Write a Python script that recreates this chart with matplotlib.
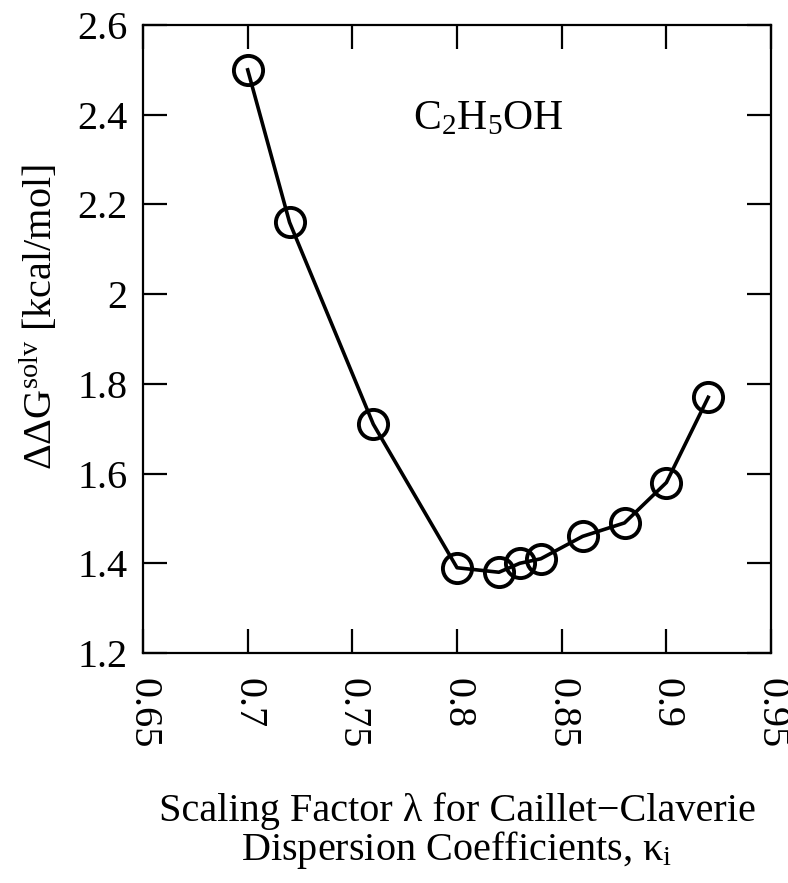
import matplotlib
matplotlib.use("Agg")
import matplotlib.pyplot as plt

plt.rcParams['font.family'] = ['Liberation Serif', 'DejaVu Serif']
plt.rcParams['mathtext.fontset'] = 'custom'
plt.rcParams['mathtext.rm'] = 'Liberation Serif'
plt.rcParams['mathtext.it'] = 'Liberation Serif:italic'

scale = [0.70, 0.72, 0.76, 0.80, 0.82, 0.83, 0.84, 0.86, 0.88, 0.90, 0.92]
ddg = [2.50, 2.16, 1.71, 1.39, 1.38, 1.40, 1.41, 1.46, 1.49, 1.58, 1.77]
xticks = [0.65, 0.70, 0.75, 0.80, 0.85, 0.90, 0.95]
xticklabels = ['0.65', '0.7', '0.75', '0.8', '0.85', '0.9', '0.95']
yticks = [1.2, 1.4, 1.6, 1.8, 2.0, 2.2, 2.4, 2.6]
yticklabels = ['1.2', '1.4', '1.6', '1.8', '2', '2.2', '2.4', '2.6']

fig = plt.figure(figsize=(7.88, 8.83), dpi=100)
ax = fig.add_axes([0.1815, 0.2605, 0.797, 0.7112])

ax.plot(scale, ddg, color='black', lw=2.6, marker='o', ms=21,
        mfc='none', mec='black', mew=2.8)

ax.set_xlim(0.65, 0.95)
ax.set_ylim(1.2, 2.6)
ax.set_xticks(xticks)
ax.set_xticklabels(xticklabels, rotation=270, va='top', ha='center')
ax.set_yticks(yticks)
ax.set_yticklabels(yticklabels)
ax.tick_params(direction='in', length=17, width=1.6, top=True, right=True,
               labelsize=29)
ax.tick_params(axis='x', pad=18)
ax.tick_params(axis='y', pad=11)
for s in ax.spines.values():
    s.set_linewidth(1.6)

ax.text(0.815, 2.39, r'C$_2$H$_5$OH', fontsize=30, ha='center', va='center')

ax.set_ylabel(r'ΔΔG$^{\mathrm{solv}}$ [kcal/mol]', fontsize=29)
ax.yaxis.set_label_coords(-0.13, 0.535)
ax.set_xlabel('Scaling Factor λ for Caillet−Claverie\nDispersion Coefficients, κ$_{\\mathrm{i}}$',
              fontsize=29, labelpad=32, linespacing=0.95)

fig.savefig('out.png', dpi=100)
